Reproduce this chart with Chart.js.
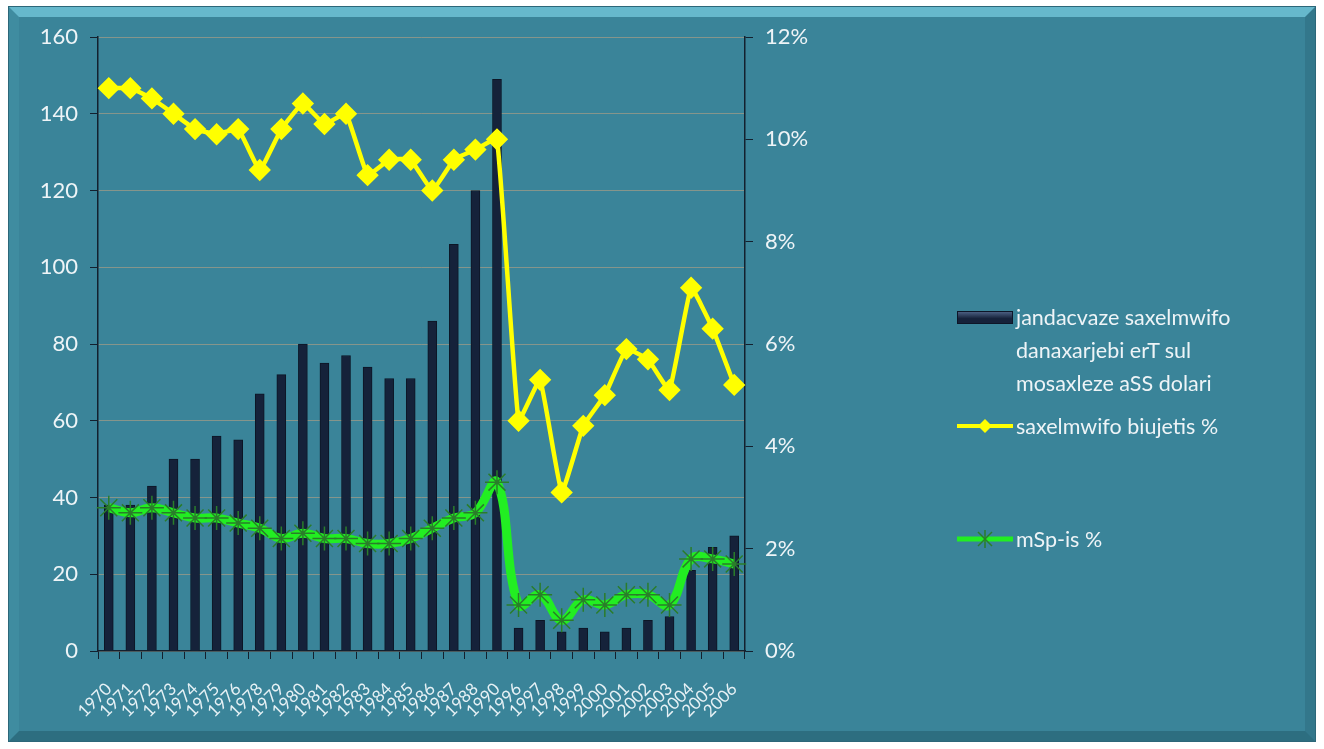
<!DOCTYPE html>
<html>
<head>
<meta charset="utf-8">
<script src="https://cdn.jsdelivr.net/npm/chart.js@4.4.1/dist/chart.umd.min.js"></script>
<style>
  body { margin: 0; background: #fff; }
  #wrap { position: relative; width: 1324px; height: 749px; overflow: hidden; }
  #frame {
    position: absolute; left: 9px; top: 7px; width: 1286px; height: 714px;
    background: #3a8499;
    border-style: solid; border-width: 10px;
    border-color: #66b8cc #33778b #2d6e80 #3f8ca0;
    box-shadow: 0 0 0 1px #2c6779;
  }
  #c { position: absolute; left: 0; top: 0; }
  #legend {
    position: absolute; left: 957px; top: 301px;
    font-family: Lato, "Open Sans", sans-serif; font-size: 21.5px; color: #eef4f7;
    line-height: 33px;
  }
  .item { position: relative; padding-left: 59px; }
  .sw { position: absolute; left: 0; width: 56px; }
</style>
</head>
<body>
<div id="wrap">
  <div id="frame"></div>
  <canvas id="c" width="1324" height="749"></canvas>
  <div id="legend">
    <div class="item" style="top:0">
      <div class="sw" style="top:10px;height:13px;background:linear-gradient(#4a5e80,#16223a 60%);border:1px solid #0e1628;box-sizing:border-box"></div>
      jandacvaze saxelmwifo<br>danaxarjebi erT sul<br>mosaxleze aSS dolari
    </div>
    <div class="item" style="top:10px">
      <svg class="sw" style="top:4px" width="56" height="24"><line x1="0" y1="12" x2="56" y2="12" stroke="#ffff00" stroke-width="4"/><polygon points="28,5 35,12 28,19 21,12" fill="#ffff00"/></svg>
      saxelmwifo biujetis %
    </div>
    <div class="item" style="top:90px">
      <svg class="sw" style="top:4px" width="56" height="24"><line x1="0" y1="12" x2="56" y2="12" stroke="#22ee22" stroke-width="5"/><g stroke="#2a7d2a" stroke-width="1.5"><line x1="21" y1="5" x2="35" y2="19"/><line x1="35" y1="5" x2="21" y2="19"/><line x1="28" y1="3" x2="28" y2="21"/></g></svg>
      mSp-is %
    </div>
  </div>
</div>
<script>
const years = ['1970','1971','1972','1973','1974','1975','1976','1978','1979','1980',
  '1981','1982','1983','1984','1985','1986','1987','1988','1990','1996',
  '1997','1998','1999','2000','2001','2002','2003','2004','2005','2006'];
// danaxarjebi erT sul mosaxleze (aSS dolari)
const spending = [38, 38, 43, 50, 50, 56, 55, 67, 72, 80,
  75, 77, 74, 71, 71, 86, 106, 120, 149, 6,
  8, 5, 6, 5, 6, 8, 9, 21, 27, 30];
// saxelmwifo biujetis %
const budgetPct = [11.0, 11.0, 10.8, 10.5, 10.2, 10.1, 10.2, 9.4, 10.2, 10.7,
  10.3, 10.5, 9.3, 9.6, 9.6, 9.0, 9.6, 9.8, 10.0, 4.5,
  5.3, 3.1, 4.4, 5.0, 5.9, 5.7, 5.1, 7.1, 6.3, 5.2];
// mSp-is %
const gdpPct = [2.8, 2.7, 2.8, 2.7, 2.6, 2.6, 2.5, 2.4, 2.2, 2.3,
  2.2, 2.2, 2.1, 2.1, 2.2, 2.4, 2.6, 2.7, 3.3, 0.9,
  1.1, 0.6, 1.0, 0.9, 1.1, 1.1, 0.9, 1.8, 1.8, 1.7];
const leftTicks = [0, 20, 40, 60, 80, 100, 120, 140, 160];
const rightTicks = [0, 2, 4, 6, 8, 10, 12];

const font = 'Lato, "Open Sans", sans-serif';
const axisDark = '#13202e';

new Chart(document.getElementById('c'), {
  type: 'bar',
  data: {
    labels: years,
    datasets: [
      {
        type: 'line', label: 'mSp-is %', data: gdpPct, yAxisID: 'y1',
        borderColor: '#22ee22', borderWidth: 9, tension: 0.4,
        pointStyle: 'star', pointRadius: 12, pointBorderColor: '#2a7d2a',
        pointBorderWidth: 1.5, pointBackgroundColor: '#2a7d2a', order: 1
      },
      {
        type: 'line', label: 'saxelmwifo biujetis %', data: budgetPct, yAxisID: 'y1',
        borderColor: '#ffff00', borderWidth: 4.5, tension: 0.1,
        pointStyle: 'rectRot', pointRadius: 8, pointBackgroundColor: '#ffff00',
        pointBorderColor: '#ffff00', order: 2
      },
      {
        label: 'jandacvaze saxelmwifo danaxarjebi erT sul mosaxleze aSS dolari',
        data: spending, yAxisID: 'y',
        backgroundColor: '#15223a', borderColor: '#0c1626', borderWidth: 1,
        barThickness: 9, order: 3
      }
    ]
  },
  options: {
    responsive: false,
    animation: false,
    layout: { padding: { left: 0, top: 37, right: 499, bottom: 8 } },
    plugins: { legend: { display: false }, tooltip: { enabled: false } },
    scales: {
      x: {
        grid: { drawOnChartArea: false, tickLength: 8, color: axisDark, offset: true },
        border: { color: axisDark, width: 1.5 },
        ticks: { color: '#e6f1f5', font: { family: font, size: 17 }, minRotation: 45, maxRotation: 45, autoSkip: false, padding: 20 },
        afterFit: s => { s.height = 90; }
      },
      y: {
        position: 'left', min: 0, max: 160,
        afterBuildTicks: s => { s.ticks = leftTicks.map(v => ({ value: v })); },
        grid: { color: 'rgba(185,160,130,0.6)', tickColor: axisDark, tickLength: 8, lineWidth: 1 },
        border: { color: axisDark, width: 1.5 },
        ticks: { color: '#eef4f7', font: { family: font, size: 22 }, padding: 12 },
        afterFit: s => { s.width = 98; }
      },
      y1: {
        position: 'right', min: 0, max: 12,
        afterBuildTicks: s => { s.ticks = rightTicks.map(v => ({ value: v })); },
        grid: { drawOnChartArea: false, color: axisDark, tickLength: 8 },
        border: { color: axisDark, width: 1.5 },
        ticks: { color: '#eef4f7', font: { family: font, size: 22 }, padding: 12, callback: v => v + '%' },
        afterFit: s => { s.width = 80; }
      }
    }
  }
});
</script>
</body>
</html>
